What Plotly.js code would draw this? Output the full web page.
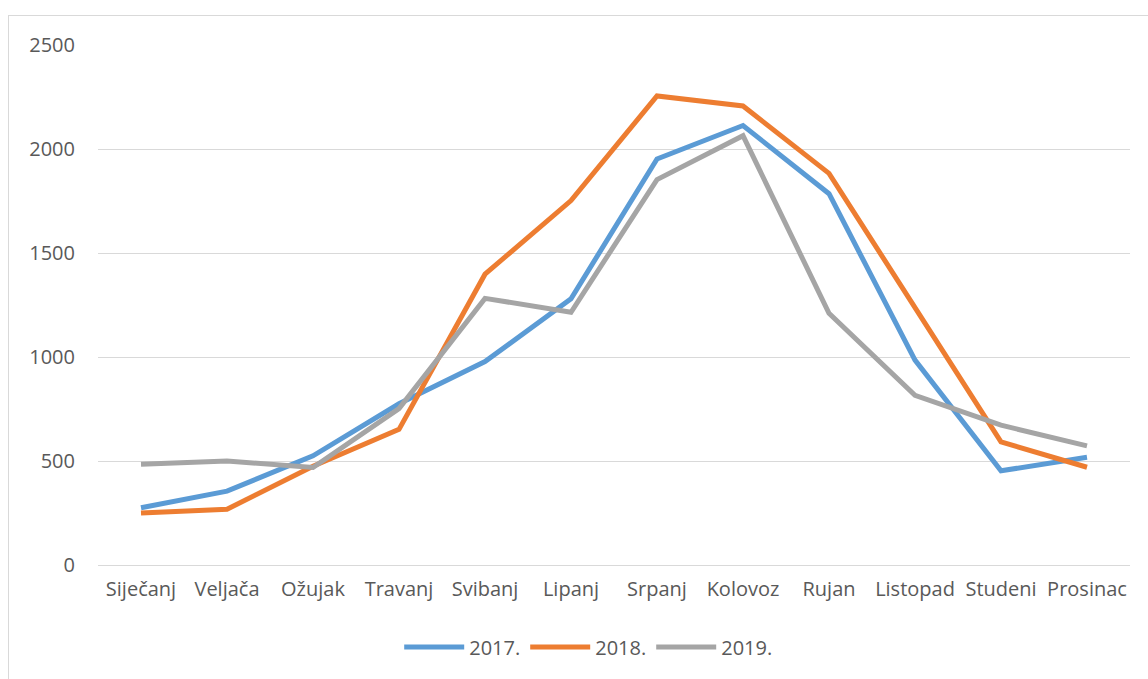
<!DOCTYPE html>
<html>
<head>
<meta charset="utf-8">
<script src="https://cdn.plot.ly/plotly-3.0.1.min.js"></script>
<style>
html,body{margin:0;padding:0;background:#fff;}
#chart{width:1148px;height:679px;}
#frame{position:absolute;left:8px;top:15px;width:1160px;height:700px;border:1px solid #d9d9d9;pointer-events:none;}
</style>
</head>
<body>
<div id="chart"></div>
<div id="frame"></div>
<script>
const months = ['Siječanj','Veljača','Ožujak','Travanj','Svibanj','Lipanj','Srpanj','Kolovoz','Rujan','Listopad','Studeni','Prosinac'];
const y2017 = [275, 355, 525, 775, 978, 1280, 1952, 2113, 1785, 985, 453, 518];
const y2018 = [250, 268, 475, 652, 1398, 1752, 2255, 2207, 1883, 1237, 592, 470];
const y2019 = [484, 500, 469, 752, 1282, 1215, 1853, 2064, 1210, 816, 672, 573];
const seriesNames = ['2017.','2018.','2019.'];
const colors = ['#5B9BD5','#ED7D31','#A5A5A5'];

const traces = [y2017, y2018, y2019].map((ys, i) => ({
  type: 'scatter',
  mode: 'lines',
  x: months,
  y: ys,
  name: seriesNames[i],
  line: {color: colors[i], width: 5}
}));

const layout = {
  width: 1148,
  height: 679,
  margin: {l: 98, r: 18, t: 45, b: 114},
  paper_bgcolor: '#ffffff',
  plot_bgcolor: '#ffffff',
  font: {family: 'Open Sans, Noto Sans, sans-serif', size: 20, color: '#595959'},
  showlegend: true,
  legend: {
    orientation: 'h',
    x: 0.475, xanchor: 'center',
    y: -0.12, yanchor: 'top',
    font: {size: 20, color: '#595959'},
    itemwidth: 60
  },
  xaxis: {
    type: 'category',
    range: [-0.5, 11.5],
    showgrid: false,
    zeroline: false,
    showline: false,
    ticks: '',
    ticklabelstandoff: 10,
    tickfont: {size: 20, color: '#595959'}
  },
  yaxis: {
    range: [0, 2500],
    tickvals: [0, 500, 1000, 1500, 2000, 2500],
    showgrid: true,
    gridcolor: '#d9d9d9',
    gridwidth: 1,
    zeroline: true,
    zerolinecolor: '#d9d9d9',
    zerolinewidth: 1,
    showline: false,
    ticks: '',
    ticklabelstandoff: 22,
    tickfont: {size: 20, color: '#595959'}
  }
};

Plotly.newPlot('chart', traces, layout, {displayModeBar: false, staticPlot: true});
</script>
</body>
</html>
